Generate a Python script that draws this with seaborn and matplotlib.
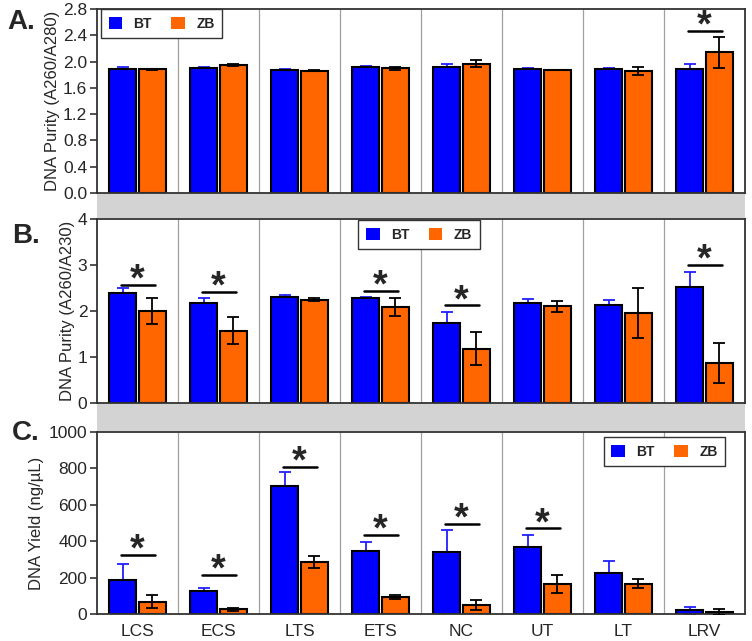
# DNA purity / yield bar charts, BT vs ZB
import pandas as pd
import seaborn as sns
import matplotlib.pyplot as plt
from matplotlib.patches import Patch, Rectangle

tissues = ['LCS', 'ECS', 'LTS', 'ETS', 'NC', 'UT', 'LT', 'LRV']
kits = ['BT', 'ZB']
kit_colors = {'BT': '#0000FF', 'ZB': '#FF6600'}

# A260/A280
a280_bt = [1.885, 1.905, 1.875, 1.92, 1.915, 1.88, 1.88, 1.89]
a280_bt_sd = [0.025, 0.015, 0.01, 0.02, 0.05, 0.025, 0.015, 0.075]
a280_zb = [1.88, 1.95, 1.86, 1.895, 1.97, 1.87, 1.85, 2.14]
a280_zb_sd = [0.01, 0.015, 0.005, 0.02, 0.05, 0.005, 0.06, 0.24]
a280_sig = [None, None, None, None, None, None, None, 2.46]

# A260/A230
a230_bt = [2.39, 2.17, 2.31, 2.28, 1.73, 2.17, 2.12, 2.52]
a230_bt_sd = [0.10, 0.12, 0.04, 0.03, 0.25, 0.09, 0.12, 0.33]
a230_zb = [2.00, 1.57, 2.25, 2.09, 1.18, 2.10, 1.95, 0.87]
a230_zb_sd = [0.28, 0.29, 0.03, 0.20, 0.36, 0.12, 0.54, 0.43]
a230_sig = [2.57, 2.41, None, 2.44, 2.12, None, None, 3.0]

# DNA yield (ng/uL)
yield_bt = [188, 124, 702, 347, 342, 366, 225, 20]
yield_bt_sd = [86, 20, 77, 46, 117, 67, 64, 20]
yield_zb = [68, 26, 287, 93, 51, 165, 166, 11]
yield_zb_sd = [35, 9, 32, 11, 27, 48, 25, 18]
yield_sig = [322, 212, 810, 433, 497, 470, None, None]

sns.set_theme(style='white')
plt.rcParams['font.family'] = ['Liberation Sans', 'DejaVu Sans']

W, H = 752, 641
fig = plt.figure(figsize=(W / 100, H / 100), dpi=100)


def px_axes(left, top, right, bottom):
    return fig.add_axes([left / W, 1 - bottom / H, (right - left) / W, (bottom - top) / H])


def panel(ax, bt, bt_sd, zb, zb_sd, sig, ymax, yticks, fmt, ylabel, label_x, letter, letter_xy, leg_anchor):
    df = pd.DataFrame({
        'tissue': tissues * 2,
        'kit': ['BT'] * len(tissues) + ['ZB'] * len(tissues),
        'value': bt + zb,
    })
    sns.barplot(data=df, x='tissue', y='value', hue='kit', palette=kit_colors,
                width=0.74, gap=0.1, edgecolor='black', linewidth=1.5,
                errorbar=None, legend=False, saturation=1, ax=ax, zorder=2)

    centers = {}
    for kit, cont in zip(kits, ax.containers):
        centers[kit] = [p.get_x() + p.get_width() / 2 for p in cont.patches]

    # BT error bars sit behind the bar, so only the upper half shows
    ax.errorbar(centers['BT'], bt, yerr=bt_sd, fmt='none', ecolor='#2020ff',
                elinewidth=1.3, capsize=4.5, capthick=1.3, zorder=1)
    ax.errorbar(centers['ZB'], zb, yerr=zb_sd, fmt='none', ecolor='black',
                elinewidth=1.3, capsize=4.5, capthick=1.3, zorder=3)

    for i, y in enumerate(sig):
        if y is None:
            continue
        x0, x1 = centers['BT'][i], centers['ZB'][i]
        ax.plot([x0 - 0.02, x1 + 0.03], [y, y], color='black', lw=1.8, zorder=4)
        ax.annotate('*', xy=((x0 + x1) / 2, y), xytext=(0, -4), textcoords='offset points',
                    ha='center', va='baseline', fontsize=27, fontweight='bold', zorder=4,
                    annotation_clip=False)

    for s in range(len(tissues) - 1):
        ax.axvline(s + 0.5, color='#a0a0a0', lw=0.9, zorder=0)

    ax.set_xlim(-0.5, len(tissues) - 0.5)
    ax.set_ylim(0, ymax)
    ax.set_yticks(yticks)
    ax.set_yticklabels([fmt.format(t) for t in yticks], fontsize=12.5)
    ax.tick_params(axis='y', direction='out', length=5, width=1.2, color='#333333', pad=2, left=True)
    ax.set_ylabel(ylabel, fontsize=12)
    ax.yaxis.set_label_coords(label_x, 0.5)
    ax.set_xlabel('')
    for sp in ax.spines.values():
        sp.set_color('#333333')
        sp.set_linewidth(1.3)

    handles = [Patch(facecolor=kit_colors[k], edgecolor='none', label=k) for k in kits]
    leg = ax.legend(handles=handles, ncol=2, loc='upper left', bbox_to_anchor=leg_anchor,
                    borderaxespad=0, frameon=True, fancybox=False, framealpha=1,
                    edgecolor='#333333', handlelength=1.0, handleheight=1.0,
                    handletextpad=0.8, columnspacing=1.4, borderpad=0.55,
                    prop={'weight': 'bold', 'size': 10})
    leg.get_frame().set_linewidth(1.0)
    leg.set_zorder(5)

    fig.text(letter_xy[0] / W, 1 - letter_xy[1] / H, letter, fontsize=20,
             fontweight='bold', ha='left', va='center')


ax_a = px_axes(97, 9, 745, 193)
panel(ax_a, a280_bt, a280_bt_sd, a280_zb, a280_zb_sd, a280_sig, 2.8,
      [0, 0.4, 0.8, 1.2, 1.6, 2.0, 2.4, 2.8], '{:.1f}', 'DNA Purity (A260/A280)',
      -0.057, 'A.', (7, 22), (0.006, 1.0))
ax_a.set_xticklabels([])
ax_a.tick_params(axis='x', length=0)

ax_b = px_axes(97, 219, 745, 403)
panel(ax_b, a230_bt, a230_bt_sd, a230_zb, a230_zb_sd, a230_sig, 4,
      [0, 1, 2, 3, 4], '{:.0f}', 'DNA Purity (A260/A230)',
      -0.034, 'B.', (12, 236), (0.403, 0.995))
ax_b.set_xticklabels([])
ax_b.tick_params(axis='x', length=0)

ax_c = px_axes(97, 432, 745, 614)
panel(ax_c, yield_bt, yield_bt_sd, yield_zb, yield_zb_sd, yield_sig, 1000,
      [0, 200, 400, 600, 800, 1000], '{:.0f}', 'DNA Yield (ng/µL)',
      -0.082, 'C.', (12, 433), (0.782, 0.973))
ax_c.set_xticklabels(tissues, fontsize=12.5)
ax_c.tick_params(axis='x', length=0, pad=7)

# gray bands between panels
for top, bottom in [(193, 218), (403, 431)]:
    fig.add_artist(Rectangle((97 / W, 1 - bottom / H), (745 - 97) / W, (bottom - top) / H,
                             transform=fig.transFigure, facecolor='#d3d3d3',
                             edgecolor='none', zorder=0))

fig.savefig('out.png', dpi=100)
